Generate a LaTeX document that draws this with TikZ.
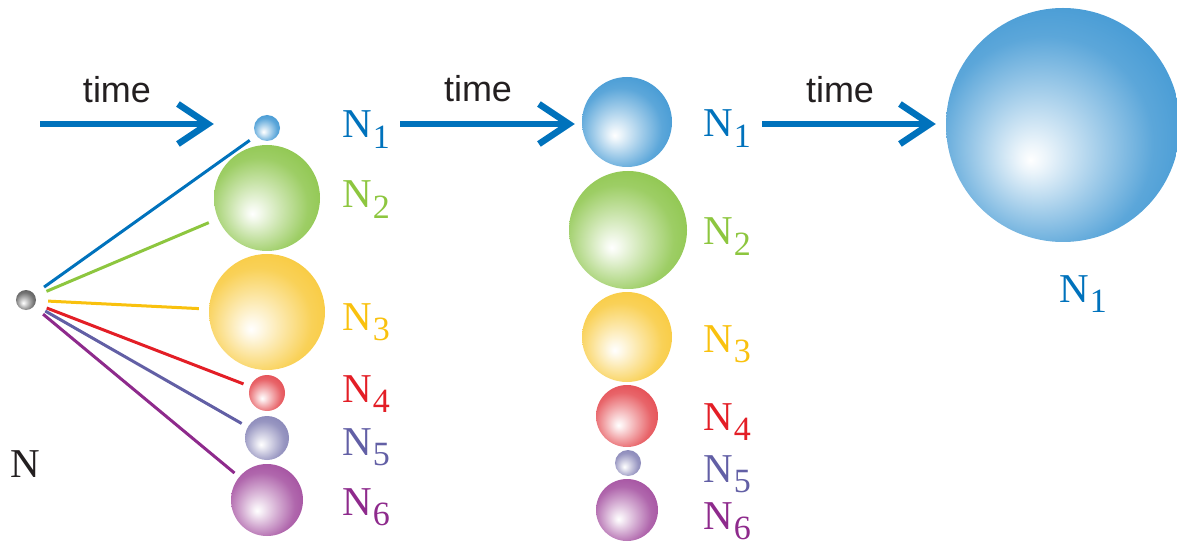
\documentclass[tikz,border=0pt]{standalone}
\usepackage{fontspec}
\newfontfamily\sansf{Liberation Sans}
\newfontfamily\seriff{Liberation Serif}
\usetikzlibrary{arrows.meta}
\definecolor{cblue}{HTML}{0072BC}
\definecolor{cgreen}{HTML}{8DC63F}
\definecolor{cyellow}{HTML}{F9C10E}
\definecolor{cred}{HTML}{E31E26}
\definecolor{cslate}{HTML}{625FA5}
\definecolor{cpurple}{HTML}{8E2A8C}
\definecolor{sblue}{HTML}{3F97D3}
\definecolor{sgreen}{HTML}{8CC54A}
\definecolor{syellow}{HTML}{F8C93A}
\definecolor{sred}{HTML}{E4494F}
\definecolor{sslate}{HTML}{8583B6}
\definecolor{spurple}{HTML}{A24C9E}
\definecolor{sgray}{HTML}{5A5A5A}
\definecolor{txt}{HTML}{231F20}
\colorlet{sph}{blue}
\pgfdeclareradialshading[sph]{sphere}{\pgfpoint{-7bp}{-7.5bp}}{color(0bp)=(white); color(3bp)=(sph!10!white); color(13bp)=(sph!48!white); color(23bp)=(sph!85!white); color(33bp)=(sph); color(50bp)=(sph)}
\newcommand\lab[1]{N\kern1pt\raisebox{-10.5pt}[0pt][0pt]{\fontsize{34}{34}\selectfont #1}}
\tikzset{
  ball/.style 2 args={circle, inner sep=0pt, minimum size=#2, /utils/exec={\colorlet{sph}{#1}}, shade, shading=sphere},
  lbl/.style={anchor=base west, inner sep=0pt, text=#1, font=\seriff\fontsize{41}{41}\selectfont},
  timelbl/.style={anchor=base, inner sep=0pt, text=txt, font=\sansf\fontsize{36}{36}\selectfont},
  tarrow/.style={cblue, line width=5.5pt, -{Straight Barb[length=30pt, width=40pt, line width=6.5pt]}},
  ray/.style={#1, line width=3pt, shorten <=12pt}
}
\begin{document}
\begin{tikzpicture}[x=1pt, y=-1pt]
\useasboundingbox (0,0) rectangle (1177,545);
% left column
\node[ball={sgray}{20pt}] (g) at (26,300) {};
\node[ball={sblue}{26pt}] (l1) at (267,128) {};
\node[ball={sgreen}{106pt}] (l2) at (267,198) {};
\node[ball={syellow}{116pt}] (l3) at (267,312) {};
\node[ball={sred}{36pt}] (l4) at (267,393) {};
\node[ball={sslate}{44pt}] (l5) at (267,438) {};
\node[ball={spurple}{72pt}] (l6) at (267,500) {};
\node[lbl=cblue] (nl1) at (342,138) {\lab{1}};
\node[lbl=cgreen] (nl2) at (342,208) {\lab{2}};
\node[lbl=cyellow] (nl3) at (342,330) {\lab{3}};
\node[lbl=cred] (nl4) at (342,402) {\lab{4}};
\node[lbl=cslate] (nl5) at (342,455) {\lab{5}};
\node[lbl=cpurple] (nl6) at (342,515) {\lab{6}};
\node[lbl=txt] (n0) at (10,477) {N};
\draw[ray=cblue, shorten >=8pt] (g) -- (l1);
\draw[ray=cgreen, shorten >=10pt] (g) -- (l2);
\draw[ray=cyellow, shorten >=10pt] (g) -- (l3);
\draw[ray=cred, shorten >=7pt] (g) -- (l4);
\draw[ray=cslate, shorten >=7pt] (g) -- (l5);
\draw[ray=cpurple, shorten >=6pt] (g) -- (l6);
% middle column
\node[ball={sblue}{90pt}] (m1) at (627,122) {};
\node[ball={sgreen}{118pt}] (m2) at (628,230) {};
\node[ball={syellow}{90pt}] (m3) at (627,337) {};
\node[ball={sred}{62pt}] (m4) at (627,416) {};
\node[ball={sslate}{26pt}] (m5) at (628,463) {};
\node[ball={spurple}{62pt}] (m6) at (627,510) {};
\node[lbl=cblue] (nm1) at (703,137) {\lab{1}};
\node[lbl=cgreen] (nm2) at (703,245) {\lab{2}};
\node[lbl=cyellow] (nm3) at (703,352) {\lab{3}};
\node[lbl=cred] (nm4) at (703,430) {\lab{4}};
\node[lbl=cslate] (nm5) at (703,482) {\lab{5}};
\node[lbl=cpurple] (nm6) at (703,529) {\lab{6}};
% right
\node[ball={sblue}{234pt}] (r1) at (1063,125) {};
\node[lbl=cblue] (nr1) at (1059,302) {\lab{1}};
% arrows
\coordinate (a1) at (40,124);
\coordinate (a2) at (400,124);
\coordinate (a3) at (762,124);
\draw[tarrow, shorten >=40pt] (a1) -- (a1 -| l1.west);
\draw[tarrow, shorten >=7pt] (a2) -- (a2 -| m1.west);
\draw[tarrow, shorten >=10pt] (a3) -- (a3 -| r1.west);
\node[timelbl] (t1) at (117,103) {time};
\node[timelbl] (t2) at (478,102) {time};
\node[timelbl] (t3) at (840,103) {time};
\end{tikzpicture}
\end{document}
